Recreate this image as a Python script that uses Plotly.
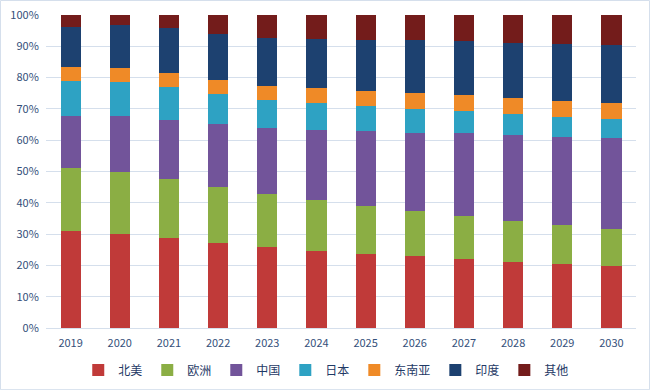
import plotly.graph_objects as go

years = ["2019", "2020", "2021", "2022", "2023", "2024", "2025", "2026", "2027", "2028", "2029", "2030"]

north_america = [31.0, 30.1, 28.9, 27.2, 25.9, 24.6, 23.6, 23.0, 22.0, 21.2, 20.4, 19.8]
europe = [20.1, 19.7, 18.7, 17.9, 16.9, 16.3, 15.4, 14.4, 13.9, 13.0, 12.5, 11.8]
china = [16.6, 17.9, 19.0, 20.2, 21.2, 22.5, 23.9, 24.9, 26.3, 27.4, 28.1, 29.1]
japan = [11.2, 11.0, 10.4, 9.5, 8.8, 8.5, 8.0, 7.7, 7.1, 6.8, 6.4, 6.1]
se_asia = [4.5, 4.4, 4.5, 4.4, 4.5, 4.8, 4.8, 5.1, 5.1, 5.1, 5.1, 5.1]
india = [12.8, 13.7, 14.3, 14.7, 15.4, 15.6, 16.3, 16.9, 17.3, 17.6, 18.2, 18.5]
others = [3.8, 3.2, 4.2, 6.1, 7.3, 7.7, 8.0, 8.0, 8.3, 8.9, 9.3, 9.6]

series = [
    ("北美", north_america, "#C03A39"),
    ("欧洲", europe, "#8BAE44"),
    ("中国", china, "#72549A"),
    ("日本", japan, "#2EA2C3"),
    ("东南亚", se_asia, "#EF8A27"),
    ("印度", india, "#1D4170"),
    ("其他", others, "#731C1B"),
]

fig = go.Figure()
for name, vals, color in series:
    fig.add_trace(go.Bar(
        x=years, y=vals, name=name,
        marker=dict(color=color, line=dict(width=0)),
    ))

font_family = "Noto Sans CJK SC, Noto Sans, sans-serif"
fig.update_layout(
    barmode="stack",
    barnorm="percent",
    bargap=0.59,
    width=650, height=390,
    margin=dict(l=46, r=14, t=15, b=62, autoexpand=False),
    paper_bgcolor="white",
    plot_bgcolor="white",
    font=dict(family=font_family, color="#34507A", size=11),
    xaxis=dict(
        showgrid=False, showline=True, linecolor="#D5DFEC", linewidth=1,
        ticks="outside", ticklen=5, tickcolor="rgba(0,0,0,0)",
        tickfont=dict(size=11, color="#34507A"),
    ),
    yaxis=dict(
        range=[0, 100], dtick=10, ticksuffix="%",
        showgrid=True, gridcolor="#D5DFEC", gridwidth=1,
        zeroline=False, showline=False,
        ticks="outside", ticklen=4, tickcolor="rgba(0,0,0,0)",
        tickfont=dict(size=11, color="#34507A"),
    ),
    legend=dict(
        orientation="h", x=0.475, xanchor="center", y=-0.134, yanchor="middle",
        font=dict(size=12, color="#1F3A66"), traceorder="normal",
        itemwidth=30,
    ),
    shapes=[dict(
        type="rect", xref="paper", yref="paper",
        x0=-0.0771, x1=1.0229, y0=-0.197, y1=1.0463,
        line=dict(color="#D5DFEC", width=1), fillcolor="rgba(0,0,0,0)",
        layer="below",
    )],
)

fig.write_html(
    "out.html",
    config={"displayModeBar": False},
    post_script="document.body.style.margin='0';document.body.style.overflow='hidden';",
)
